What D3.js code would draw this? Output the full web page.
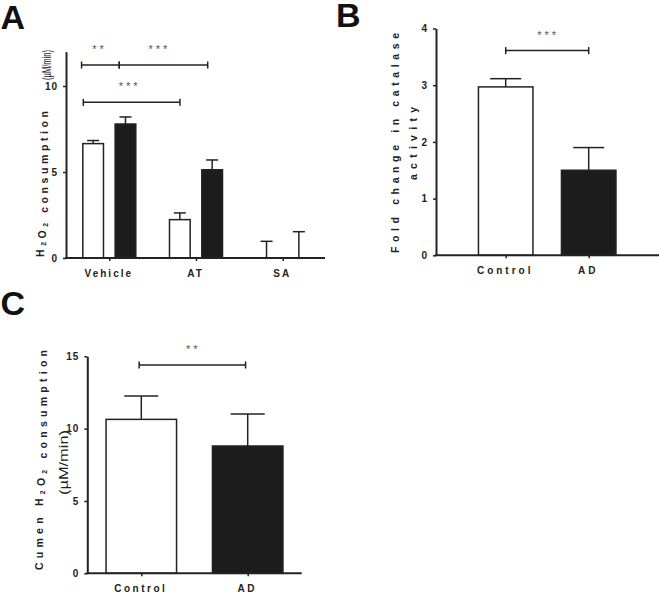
<!DOCTYPE html>
<html><head><meta charset="utf-8">
<script src="https://cdn.jsdelivr.net/npm/d3@7"></script>
<style>
body{margin:0;background:#fff}
svg{display:block}
text{font-family:"Liberation Sans",Arial,sans-serif}
</style>
</head><body>
<svg id="c" width="659" height="595"></svg>
<script>
// ---------- DATA ----------
// Panel A
const catsA = ["Vehicle", "AT", "SA"];
const seriesA = ["white", "black"];
const meanA_white = [6.65, 2.23, 0];
const errA_white = [0.18, 0.39, 0.97];
const meanA_black = [7.79, 5.13, 0];
const errA_black = [0.41, 0.57, 1.53];
const ticksA = [0, 5, 10];
// brackets: endpoints in category units (0 = first category), y in data units
const bracketsA = [
  { x1: -0.32, x2: 0.115, y: 11.22, label: "**" },
  { x1: 0.115, x2: 1.135, y: 11.22, label: "***" },
  { x1: -0.30, x2: 0.815, y: 9.05, label: "***" }
];
// Panel B
const catsB = ["Control", "AD"];
const meanB = [2.97, 1.50];
const errB = [0.145, 0.40];
const ticksB = [0, 1, 2, 3, 4];
const bracketsB = [{ x1: 0, x2: 1, y: 3.61, label: "***" }];
// Panel C
const catsC = ["Control", "AD"];
const meanC = [10.64, 8.80];
const errC = [1.61, 2.21];
const ticksC = [0, 5, 10, 15];
const bracketsC = [{ x1: -0.02, x2: 0.98, y: 14.4, label: "**" }];

// ---------- DRAWING ----------
const svg = d3.select("#c");
const INK = "#222";

function panelLetter(txt, x, y) {
  svg.append("text").attr("x", x).attr("y", y).text(txt)
    .attr("font-size", 34).attr("font-weight", "bold").attr("fill", "#111");
}

function yAxis(y, ticks, x0, fs) {
  const g = svg.append("g").attr("transform", `translate(${x0},0)`)
    .call(d3.axisLeft(y).tickValues(ticks).tickFormat(d3.format("d"))
      .tickSize(3).tickSizeOuter(0).tickPadding(5));
  g.select(".domain").attr("stroke", INK).attr("stroke-width", 2);
  g.selectAll(".tick line").attr("stroke", INK).attr("stroke-width", 1.5);
  g.selectAll(".tick text").attr("font-size", fs).attr("font-weight", "bold")
    .attr("fill", "#222").attr("letter-spacing", 1).attr("font-family", "Liberation Sans, Arial, sans-serif");
}

function xAxis(x, y0, x0, x1, labelY, ls) {
  svg.append("line").attr("x1", x0 - 1).attr("x2", x1).attr("y1", y0).attr("y2", y0)
    .attr("stroke", INK).attr("stroke-width", 2);
  const g = svg.append("g").attr("transform", `translate(0,${y0})`)
    .call(d3.axisBottom(x).tickSize(3).tickSizeOuter(0).tickPadding(labelY));
  g.select(".domain").remove();
  g.selectAll(".tick line").attr("stroke", INK).attr("stroke-width", 1.5);
  g.selectAll(".tick text").attr("font-size", 10).attr("font-weight", "bold")
    .attr("fill", "#222").attr("letter-spacing", ls).attr("dx", -1)
    .attr("font-family", "Liberation Sans, Arial, sans-serif");
}

function bar(cx, w, y, v, fill) {
  if (v <= 0) return;
  svg.append("rect").attr("x", cx - w / 2).attr("width", w)
    .attr("y", y(v)).attr("height", y(0) - y(v))
    .attr("fill", fill).attr("stroke", INK).attr("stroke-width", 1.5);
}

function errBar(cx, capW, y, v, e) {
  svg.append("line").attr("x1", cx).attr("x2", cx).attr("y1", y(v)).attr("y2", y(v + e))
    .attr("stroke", INK).attr("stroke-width", 1.5);
  svg.append("line").attr("x1", cx - capW / 2).attr("x2", cx + capW / 2)
    .attr("y1", y(v + e)).attr("y2", y(v + e))
    .attr("stroke", INK).attr("stroke-width", 1.5);
}

function bracket(cu, y, b, starDx) {
  const xa = cu(b.x1), xb = cu(b.x2), yy = y(b.y);
  svg.append("line").attr("x1", xa).attr("x2", xb).attr("y1", yy).attr("y2", yy)
    .attr("stroke", INK).attr("stroke-width", 1.5);
  [xa, xb].forEach(xx => svg.append("line").attr("x1", xx).attr("x2", xx)
    .attr("y1", yy - 3.5).attr("y2", yy + 3.5).attr("stroke", INK).attr("stroke-width", 1.5));
  svg.append("text").attr("x", (xa + xb) / 2 + (starDx || 0)).attr("y", yy - 12)
    .attr("text-anchor", "middle").attr("font-size", 11).attr("letter-spacing", 3)
    .attr("fill", "#555").text(b.label);
}

// rotated axis title built from parts with spaced letters
function yTitle(x, yStart, len, parts, fs) {
  const t = svg.append("text")
    .attr("transform", `translate(${x},${yStart}) rotate(-90)`)
    .attr("font-size", fs).attr("font-weight", "bold").attr("fill", "#222")
    .attr("textLength", len).attr("lengthAdjust", "spacing");
  parts.forEach(p => {
    if (p.sub) {
      t.append("tspan").attr("font-size", fs * 0.65).attr("dy", 2).text(p.t);
      t.append("tspan").attr("dy", -2).text("");
    } else {
      t.append("tspan").text(p.t);
    }
  });
}
function unitTitle(x, yEnd, len, fs) {
  svg.append("text")
    .attr("transform", `translate(${x},${yEnd}) rotate(-90)`)
    .attr("text-anchor", "end").attr("font-size", fs).attr("fill", "#222")
    .attr("textLength", len).attr("lengthAdjust", "spacingAndGlyphs")
    .text("(\u00B5M/min)");
}

// ---------- Panel A ----------
panelLetter("A", 0.5, 29);
const yA = d3.scaleLinear().domain([0, 12]).range([258, 51.6]);
const xA = d3.scalePoint().domain(catsA).range([109.3, 282.7]);
const subA = d3.scaleBand().domain(seriesA).range([-26.5, 26.5]).paddingInner(0.36);
const cuA = d3.scaleLinear().domain([0, 1]).range([xA(catsA[0]), xA(catsA[1])]);
const bwA = subA.bandwidth();
const seriesDataA = [
  { s: "white", m: meanA_white, e: errA_white, fill: "#fff" },
  { s: "black", m: meanA_black, e: errA_black, fill: "#1c1c1c" }
];
seriesDataA.forEach(sd => {
  catsA.forEach((c, i) => {
    const cx = xA(c) + subA(sd.s) + bwA / 2;
    errBar(cx, 12, yA, sd.m[i], sd.e[i]);
    bar(cx, bwA, yA, sd.m[i], sd.fill);
  });
});
yAxis(yA, ticksA, 66, 10);
xAxis(xA, yA(0), 66, 325, 9, 2);
bracketsA.forEach((b, i) => bracket(cuA, yA, b, i === 1 ? -4 : (i === 2 ? -2 : -1)));
yTitle(44, 257, 146, [{ t: "H" }, { t: "2", sub: true }, { t: "O" }, { t: "2", sub: true }, { t: " consumption" }], 10.5);
unitTitle(51, 50, 30, 13);

// ---------- Panel B ----------
panelLetter("B", 336, 27);
const yB = d3.scaleLinear().domain([0, 4]).range([255.3, 28.5]);
const xB = d3.scalePoint().domain(catsB).range([505.7, 588.7]);
const cuB = d3.scaleLinear().domain([0, 1]).range([xB(catsB[0]), xB(catsB[1])]);
const fillsB = ["#fff", "#1c1c1c"];
catsB.forEach((c, i) => {
  errBar(xB(c), 31, yB, meanB[i], errB[i]);
  bar(xB(c), 54.5, yB, meanB[i], fillsB[i]);
});
yAxis(yB, ticksB, 436, 10);
xAxis(xB, yB(0), 436, 659, 9, 3);
bracketsB.forEach(b => bracket(cuB, yB, b, 1));
yTitle(399, 253, 220, [{ t: "Fold change in catalase" }], 10.5);
yTitle(417, 180, 73, [{ t: "activity" }], 10.5);

// ---------- Panel C ----------
panelLetter("C", 0.5, 315);
const yC = d3.scaleLinear().domain([0, 15]).range([573.3, 356.3]);
const xC = d3.scalePoint().domain(catsC).range([141.3, 247.7]);
const cuC = d3.scaleLinear().domain([0, 1]).range([xC(catsC[0]), xC(catsC[1])]);
const fillsC = ["#fff", "#1c1c1c"];
catsC.forEach((c, i) => {
  errBar(xC(c), 34, yC, meanC[i], errC[i]);
  bar(xC(c), 70.5, yC, meanC[i], fillsC[i]);
});
yAxis(yC, ticksC, 87.3, 10);
xAxis(xC, yC(0), 87.3, 301.7, 9, 2.5);
bracketsC.forEach(b => bracket(cuC, yC, b, 1));
yTitle(43, 570, 220, [{ t: "Cumen H" }, { t: "2", sub: true }, { t: "O" }, { t: "2", sub: true }, { t: " consumption" }], 10.5);
unitTitle(67.5, 430, 65, 12.5);
</script>
</body></html>
